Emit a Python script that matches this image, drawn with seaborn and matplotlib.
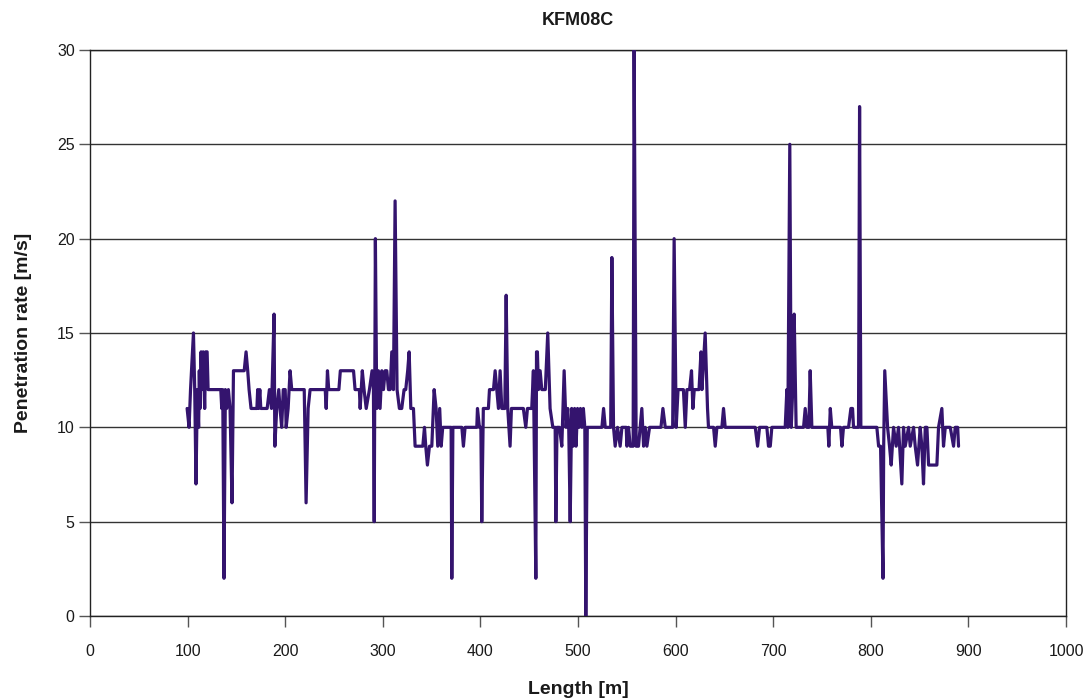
import matplotlib
matplotlib.use("Agg")
import matplotlib.pyplot as plt
import seaborn as sns
import pandas as pd

# Borehole KFM08C: penetration rate along the hole
length_m = [
    99.5, 101.5, 103, 106, 107.3, 108.6, 110, 111.3, 112, 112.7, 113.8, 114.8,
    116, 117.5, 118.5, 120, 121, 134, 135, 136, 137.3, 138.7, 140, 141.8, 143.5,
    145.5, 147, 158, 159.9, 161.6, 163, 165, 171, 171.8, 172.6, 174, 175, 181.5,
    183.8, 186, 188.6, 189.4, 191.3, 193.4, 194.7, 196.4, 198, 200, 201, 203,
    205, 206.7, 219.5, 221.4, 223.5, 225.5,
    241, 242, 243.3, 244.6, 255, 256.5, 270, 271.6, 276, 276.8, 279, 280.8, 283,
    286.3, 289, 290.4, 291.2, 292.4, 293.8, 295.5, 297.2, 299, 300.7, 302.4,
    304.1, 305.8, 307.5, 309.2, 310.9, 312.6, 314.6, 317, 319.4, 321.8, 323.5,
    325.5, 327, 328.7, 331.4, 333.1, 341, 342.7, 344, 345.7, 347.8, 350.2,
    352.6, 354.6, 356.3, 358.3,
    359.8, 361.4, 370, 370.7, 371.8, 381, 382.6, 384.3, 396.3, 397, 399, 400.5,
    401.4, 403, 408.2, 409.3, 413.4, 415.1, 416.8, 418.5, 420.2, 421.9, 425,
    426.4, 428, 430.4, 431.8, 444, 446.5, 448.2, 452.6, 454.3, 456.8, 457.5,
    458.4, 459.5, 461.2, 462.9, 466.5, 469, 471.4, 474.2, 476.6, 477.3, 478.5,
    481, 483.4, 485.8, 487.8, 489.5, 490.5, 492,
    493.5, 495, 496.5, 498, 499.5, 501, 502.5, 504, 505.5, 507, 508, 509.5,
    524.5, 526.2, 527.9, 533.5, 534.7, 536.4, 538.1, 540.5, 543.2, 545, 549.4,
    550.1, 551.8, 553.5, 555.2, 556.5, 557.5, 559.6, 562, 563.7, 565.4, 567.2,
    568.9, 570.6, 573.3, 585, 587, 589.4, 597, 598.5, 600.6, 602.5, 608, 609.9,
    611.6, 614.3, 616.3, 617.7, 619.1, 624, 626, 627, 630.3, 632.7, 633.7,
    638.9, 640.6, 642.3, 647.4, 649.1, 650.8, 681.6, 684, 686, 693.5, 695.2,
    697, 698.6, 712.3, 714, 715, 717, 718.5, 720, 721.5, 723.5, 731.1, 732.8,
    734.5, 736.5, 737.9, 739.6, 756, 757, 758.5, 760, 769, 770.4, 772, 777.2,
    779.6, 781.3, 782.3, 787.4, 788.5, 789.8, 806.2, 808, 810, 812.5, 813.2,
    814.3, 817.2, 819.2, 820.9, 823.3, 826, 828.4, 831.8, 833.5, 835.3, 838.7,
    840.4, 843.8, 845.5, 847.9, 850.6, 852.3, 854, 855.8, 857.5, 859.2, 867.7,
    869.4, 872.8, 874.5, 876.3, 881.4, 884.8, 886.5, 889, 889.9,
]

rate = [
    11, 10, 12, 15, 12, 7, 12, 10, 13, 11, 14, 12,
    14, 11, 14, 14, 12, 12, 11, 12, 2, 12, 11, 12, 11,
    6, 13, 13, 14, 13, 12, 11, 11, 12, 11, 12, 11, 11,
    12, 11, 16, 9, 11, 12, 11, 10, 12, 12, 10, 11,
    13, 12, 12, 6, 11, 12,
    12, 11, 13, 12, 12, 13, 13, 12, 12, 11, 13, 12, 11,
    12, 13, 12, 5, 20, 11, 13, 11, 13, 12, 13,
    13, 12, 12, 14, 12, 22, 12, 11, 11, 12, 12,
    13, 14, 11, 11, 9, 9, 10, 9, 8, 9,
    9, 12, 11, 9, 11,
    9, 10, 10, 2, 10, 10, 9, 10, 10, 11, 10, 10,
    5, 11, 11, 12, 12, 13, 12, 11, 13, 11, 11,
    17, 11, 9, 11, 11, 10, 11, 11, 13, 2, 14,
    14, 12, 13, 12, 12, 15, 11, 10, 10, 5, 10,
    10, 9, 13, 10, 11, 10, 5,
    11, 9, 11, 9, 11, 10, 11, 10, 11, 10, 0, 10,
    10, 11, 10, 10, 19, 10, 9, 10, 9, 10, 10,
    9, 10, 9, 9, 9, 30, 9, 9, 10, 11, 9,
    10, 9, 10, 10, 11, 10, 10, 20, 10, 12, 12, 10,
    12, 12, 13, 11, 12, 12, 14, 12, 15, 11, 10,
    10, 9, 10, 10, 11, 10, 10, 9, 10, 10, 9,
    9, 10, 10, 12, 10, 25, 10, 12, 16, 10, 10, 11,
    10, 10, 13, 10, 10, 9, 11, 10, 10, 9, 10, 10,
    11, 11, 10, 10, 27, 10, 10, 9, 9, 2, 9,
    13, 10, 9, 8, 10, 9, 10, 7, 10, 9, 10,
    9, 10, 9, 8, 10, 9, 7, 10, 10, 8, 8,
    10, 11, 9, 10, 10, 9, 10, 10, 9,
]

x_ticks = list(range(0, 1001, 100))
y_ticks = list(range(0, 31, 5))

sns.set_theme(style="white")
plt.rcParams["font.family"] = ["Liberation Sans", "DejaVu Sans"]

df = pd.DataFrame({"Length [m]": length_m, "Penetration rate [m/s]": rate})

fig = plt.figure(figsize=(10.84, 7.0), dpi=100)
ax = fig.add_axes([90 / 1084, 84 / 700, 976 / 1084, 566 / 700])

sns.lineplot(data=df, x="Length [m]", y="Penetration rate [m/s]",
             estimator=None, sort=False, color="#34146e", linewidth=2.3,
             ax=ax, zorder=3)

ax.set_xlim(0, 1000)
ax.set_ylim(0, 30)
ax.set_xticks(x_ticks)
ax.set_yticks(y_ticks)

ax.yaxis.grid(True, color="#333333", linewidth=1.0)
ax.xaxis.grid(False)
ax.set_axisbelow(True)
for side in ["left", "bottom", "right", "top"]:
    ax.spines[side].set_visible(True)
    ax.spines[side].set_color("#222222")
    ax.spines[side].set_linewidth(1.0)

ax.tick_params(axis="both", direction="out", length=8, width=1,
               color="#555555", labelsize=11.5, labelcolor="#1a1a1a",
               bottom=True, left=True)
ax.tick_params(axis="x", pad=12)
ax.tick_params(axis="y", pad=3)

ax.set_title("KFM08C", fontweight="bold", fontsize=13, color="#1a1a1a", pad=18)
ax.set_xlabel("Length [m]", fontweight="bold", fontsize=14, color="#1a1a1a",
              labelpad=16)
ax.set_ylabel("Penetration rate [m/s]", fontweight="bold", fontsize=14,
              color="#1a1a1a", labelpad=18)

fig.savefig("out.png", dpi=100)
